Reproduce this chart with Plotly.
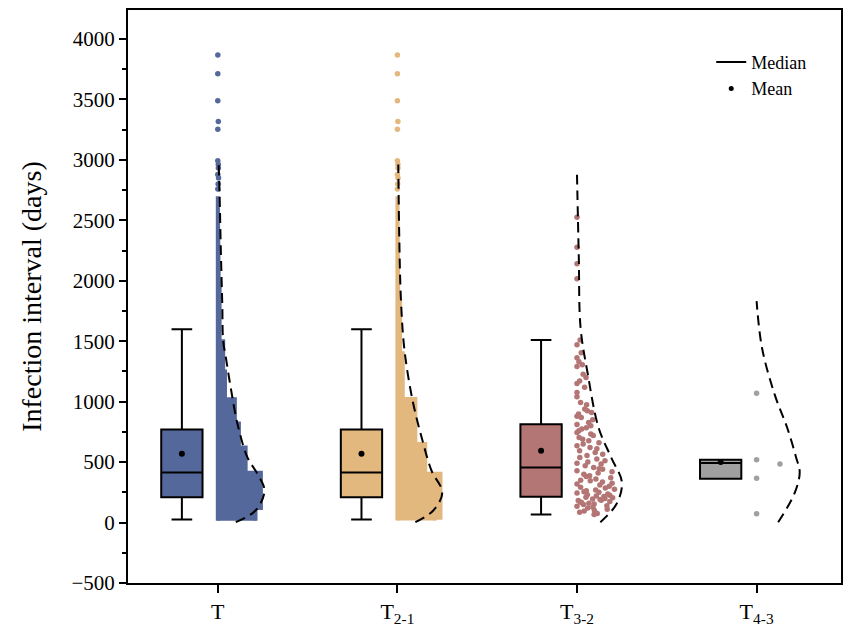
import numpy as np
import plotly.graph_objects as go

# groups
groups = ["T", "T<sub>2-1</sub>", "T<sub>3-2</sub>", "T<sub>4-3</sub>"]
colours = ["#55689B", "#E3B87F", "#B47575", "#A0A0A0"]

# box statistics (days)
q1 = [209, 209, 214, 362]
median = [415, 415, 456, 492]
q3 = [770, 770, 814, 520]
lower = [25, 25, 66, 362]
upper = [1600, 1600, 1510, 520]
mean = [569, 569, 594, 500]

# dense point clouds of T and T2-1, drawn as density profile (bin edges, relative width)
t_edges = [15, 120, 413, 620, 820, 1020, 1250, 1500, 2000, 2700]
t_dens = [0.84, 0.96, 0.62, 0.47, 0.38, 0.16, 0.12, 0.04, 0.02]
t21_edges = [16, 40, 404, 650, 1023, 1400, 1830, 2700]
t21_dens = [0.84, 0.96, 0.62, 0.40, 0.12, 0.06, 0.02]

# sparse points
t_points = [3867, 3713, 3490, 3317, 3253, 2992, 2962, 2934, 2880, 2850, 2800, 2760]
t21_points = [3867, 3713, 3490, 3317, 3253, 2992, 2962, 2934, 2880, 2850, 2800, 2760]
t32_points = [2525, 2277, 2140, 2016,
              1510, 1470, 1405, 1364, 1330, 1305, 1290, 1227, 1200, 1172, 1150, 1120,
              1076, 1040, 994, 975, 939, 925, 911, 897, 880, 870, 850, 828, 812, 800,
              785, 773, 759, 745, 732, 720, 704, 690, 676, 660, 650, 635, 620, 610,
              594, 580, 566, 555, 539, 525, 511, 500, 490, 484, 470, 456, 445, 440,
              429, 420, 410, 400, 388, 380, 370, 360, 350, 346, 335, 325, 319, 310,
              300, 292, 285, 275, 270, 264, 255, 250, 245, 237, 230, 225, 220, 215,
              209, 205, 200, 195, 190, 185, 182, 175, 170, 165, 160, 154, 150, 140,
              135, 127, 120, 110, 100, 95, 85, 75, 66]
t43_points = [1070, 520, 484, 366, 72]

# density curves (days, relative density)
t_kde_y = [3, 100, 264, 404, 539, 814, 1089, 1364, 1502, 1800, 2244, 2714, 2962]
t_kde = [0.4, 0.84, 1.04, 0.88, 0.66, 0.44, 0.3, 0.18, 0.12, 0.1, 0.068, 0.04, 0.02]
t21_kde_y = [3, 100, 250, 429, 677, 1007, 1419, 1832, 2400, 2962]
t21_kde = [0.4, 0.8, 1.0, 0.76, 0.56, 0.34, 0.16, 0.08, 0.04, 0.02]
t32_kde_y = [3, 154, 333, 539, 786, 1229, 1611, 2200, 2877]
t32_kde = [0.52, 0.88, 1.0, 0.76, 0.48, 0.24, 0.08, 0.04, 0.0]
t43_kde_y = [3, 237, 415, 539, 786, 1062, 1446, 1832]
t43_kde = [0.48, 0.84, 0.96, 0.88, 0.68, 0.4, 0.12, 0.0]

FONT = "Times New Roman, Liberation Serif, serif"
HALF = 0.25      # width of the density side
BOX_SHIFT = -0.2


def jitter(vals, kde_y, kde_d, binsize=100):
    # spread the points of each bin across the density width, in a scrambled order
    vals = sorted(vals, key=lambda v: (round(v / binsize), -((v * 7.31) % 1)))
    counts = {}
    offs = []
    for v in vals:
        b = round(v / binsize)
        k = counts.get(b, 0)
        counts[b] = k + 1
        offs.append(np.interp(v, kde_y, kde_d) * HALF * 0.92 * ((k * 0.618) % 1))
    return np.array(vals), np.array(offs)


def cloud(edges, dens, pos, colour):
    xs, ys = [pos, pos], [edges[0], edges[-1]]
    for i in range(len(dens) - 1, -1, -1):
        w = pos + dens[i] * HALF
        xs += [w, w]
        ys += [edges[i + 1], edges[i]]
    return go.Scatter(x=xs, y=ys, fill="toself", mode="lines", fillcolor=colour,
                      line=dict(color=colour, width=4), showlegend=False, hoverinfo="skip")


fig = go.Figure()

clouds = [(t_edges, t_dens), (t21_edges, t21_dens), None, None]
points = [t_points, t21_points, t32_points, t43_points]
kdes = [(t_kde_y, t_kde), (t21_kde_y, t21_kde), (t32_kde_y, t32_kde), (t43_kde_y, t43_kde)]

for i in range(4):
    fig.add_trace(go.Box(
        x=[i + BOX_SHIFT], q1=[q1[i]], median=[median[i]], q3=[q3[i]],
        lowerfence=[lower[i]], upperfence=[upper[i]],
        width=0.23, whiskerwidth=0.5, boxpoints=False,
        fillcolor=colours[i], line=dict(color="black", width=2),
        showlegend=False, hoverinfo="skip",
    ))
    if clouds[i] is not None:
        fig.add_trace(cloud(clouds[i][0], clouds[i][1], i, colours[i]))
    ky, kd = kdes[i]
    py, px = jitter(points[i], ky, kd)
    fig.add_trace(go.Scatter(
        x=px + i, y=py, mode="markers",
        marker=dict(color=colours[i], size=5.5, line=dict(width=0)),
        showlegend=False, hoverinfo="skip",
    ))
    fig.add_trace(go.Scatter(
        x=i + np.array(kd) * HALF, y=ky, mode="lines", line_shape="spline",
        line=dict(color="black", width=2, dash="10px,6px"),
        showlegend=False, hoverinfo="skip",
    ))

fig.add_trace(go.Scatter(
    x=[i + BOX_SHIFT for i in range(4)], y=mean, mode="markers",
    marker=dict(color="black", size=6), showlegend=False, hoverinfo="skip",
))

# legend entries
fig.add_trace(go.Scatter(x=[None], y=[None], mode="lines", name="Median",
                         line=dict(color="black", width=2)))
fig.add_trace(go.Scatter(x=[None], y=[None], mode="markers", name="Mean",
                         marker=dict(color="black", size=5)))

fig.update_layout(
    width=835, height=620,
    plot_bgcolor="white", paper_bgcolor="white",
    margin=dict(l=120, r=1, t=0, b=45),
    font=dict(family=FONT, color="black", size=20),
    legend=dict(x=0.818, y=0.941, xanchor="left", yanchor="top",
                font=dict(size=18), bgcolor="rgba(0,0,0,0)", tracegroupgap=0),
    showlegend=True,
)
fig.update_xaxes(
    range=[-0.5, 3.47], tickvals=[0, 1, 2, 3], ticktext=groups,
    showline=True, linecolor="black", linewidth=2, mirror=True,
    ticks="outside", ticklen=8, tickwidth=2, tickcolor="black",
    showgrid=False, zeroline=False, tickfont=dict(size=22),
)
fig.update_yaxes(
    range=[-500, 4240], tickvals=list(range(-500, 4001, 500)),
    title=dict(text="Infection interval (days)", font=dict(size=28), standoff=22),
    showline=True, linecolor="black", linewidth=2, mirror=True,
    ticks="outside", ticklen=7, tickwidth=2, tickcolor="black",
    minor=dict(ticks="outside", ticklen=4, tickwidth=2, tickcolor="black", dtick=250),
    showgrid=False, zeroline=False, tickfont=dict(size=21),
)

fig.write_html("out.html")
